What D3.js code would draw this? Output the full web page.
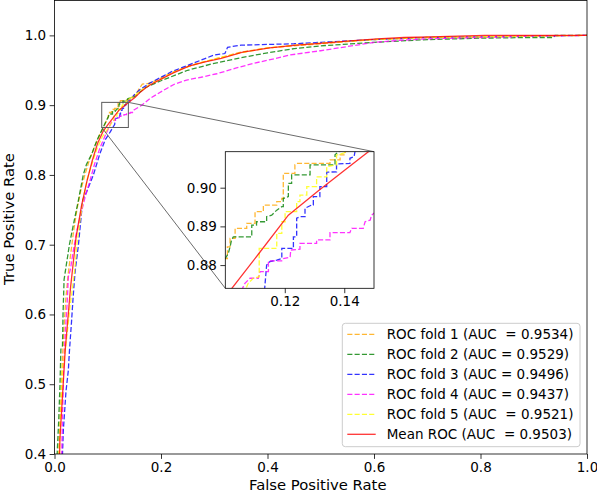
<!DOCTYPE html>
<html><head><meta charset="utf-8">
<script src="https://cdn.jsdelivr.net/npm/d3@7"></script>
<style>body{margin:0;background:#fff} text{font-family:"DejaVu Sans",sans-serif;fill:#000}</style>
</head><body><svg id="c" width="597" height="496"></svg>
<script>
// ---------------- data ----------------
const fold1 = [[0,0],[0.006,0.35],[0.008,0.40],[0.011,0.46],[0.014,0.52],[0.017,0.57],[0.021,0.62],[0.026,0.66],[0.031,0.69],[0.036,0.72],[0.042,0.75],[0.05,0.78],[0.057,0.80],[0.065,0.82],[0.075,0.84],[0.085,0.858],[0.093,0.870],
 [0.1,0.8817],[0.1007,0.8817],[0.1007,0.8847],[0.1016,0.8847],[0.1016,0.8869],[0.1033,0.8869],[0.1033,0.8895],[0.1072,0.8895],[0.1072,0.8908],[0.1100,0.8908],[0.1100,0.8938],[0.1128,0.8938],[0.1128,0.8955],[0.1173,0.8955],[0.1173,0.8964],[0.1190,0.8964],[0.1190,0.8972],[0.1195,0.8972],[0.1195,0.9037],[0.1234,0.9037],[0.1234,0.9059],[0.1240,0.9063],[0.1352,0.9063],[0.1352,0.9072],[0.1386,0.9072],[0.1386,0.9085],[0.1403,0.9085],[0.1403,0.9093],
 [0.145,0.9105],[0.15,0.914],[0.155,0.918],[0.16,0.925],[0.165,0.93],[0.175,0.931],[0.19,0.935],[0.21,0.943],[0.23,0.95],[0.26,0.958],[0.3,0.966],[0.35,0.976],[0.4,0.982],[0.45,0.985],[0.5,0.988],[0.55,0.991],[0.6,0.994],[0.7,0.997],[0.8,0.998],[0.9,0.999],[1,1]];
const fold2 = [[0,0],[0.003,0.35],[0.005,0.40],[0.008,0.45],[0.0103,0.50],[0.012,0.55],[0.015,0.555],[0.016,0.60],[0.018,0.65],[0.022,0.67],[0.028,0.70],[0.035,0.727],[0.045,0.764],[0.054,0.80],[0.06,0.815],[0.07,0.83],[0.08,0.85],[0.09,0.866],
 [0.1,0.8817],[0.1010,0.8830],[0.1016,0.8847],[0.1021,0.8865],[0.1027,0.8873],[0.1089,0.8873],[0.1089,0.8903],[0.1105,0.8903],[0.1105,0.8912],[0.1139,0.8912],[0.1139,0.8925],[0.1156,0.8929],[0.1173,0.8942],[0.1190,0.8951],[0.1195,0.8951],[0.1195,0.8972],[0.1212,0.8977],[0.1212,0.9011],[0.1223,0.9011],[0.1223,0.9033],[0.1285,0.9033],[0.1285,0.9059],[0.1369,0.9059],[0.1369,0.9085],[0.1380,0.9093],
 [0.15,0.912],[0.17,0.925],[0.2,0.935],[0.25,0.95],[0.3,0.96],[0.35,0.968],[0.4,0.975],[0.45,0.981],[0.5,0.985],[0.6,0.99],[0.7,0.994],[0.8,0.996],[0.9,0.997],[0.937,0.997],[0.94,1.0],[1,1]];
const fold3 = [[0,0],[0.012,0.35],[0.015,0.40],[0.0166,0.434],[0.0216,0.49],[0.026,0.52],[0.028,0.547],[0.032,0.59],[0.035,0.625],[0.0385,0.66],[0.045,0.70],[0.053,0.764],[0.06,0.775],[0.073,0.80],[0.085,0.83],[0.095,0.85],[0.105,0.862],
 [0.1131,0.8727],[0.1139,0.8800],[0.1150,0.8809],[0.1173,0.8813],[0.1190,0.8817],[0.1190,0.8843],[0.1229,0.8843],[0.1229,0.8873],[0.1240,0.8873],[0.1240,0.8921],[0.1251,0.8925],[0.1268,0.8925],[0.1268,0.8947],[0.1290,0.8955],[0.1296,0.8955],[0.1296,0.8977],[0.1318,0.8977],[0.1318,0.9003],[0.1341,0.9003],[0.1341,0.9040],[0.1374,0.9041],[0.1374,0.9061],[0.1419,0.9063],[0.1419,0.9076],[0.1433,0.9080],[0.1436,0.9093],
 [0.15,0.915],[0.16,0.922],[0.18,0.932],[0.2,0.94],[0.22,0.948],[0.25,0.957],[0.28,0.966],[0.3,0.972],[0.32,0.974],[0.325,0.983],[0.35,0.986],[0.45,0.988],[0.5,0.99],[0.55,0.992],[0.6,0.994],[0.7,0.997],[0.8,0.998],[0.9,0.999],[1,1]];
const fold4 = [[0,0],[0.01,0.35],[0.0135,0.40],[0.015,0.45],[0.017,0.52],[0.02,0.57],[0.024,0.62],[0.026,0.654],[0.03,0.665],[0.035,0.69],[0.042,0.72],[0.05,0.745],[0.058,0.77],[0.066,0.79],[0.075,0.815],[0.085,0.838],[0.095,0.856],
 [0.1058,0.8740],[0.1066,0.8753],[0.1083,0.8766],[0.1111,0.8766],[0.1117,0.8783],[0.1145,0.8783],[0.1145,0.8811],[0.1190,0.8811],[0.1195,0.8817],[0.1218,0.8820],[0.1220,0.8839],[0.1251,0.8841],[0.1251,0.8856],[0.1307,0.8856],[0.1307,0.8865],[0.1352,0.8865],[0.1352,0.8884],[0.1419,0.8884],[0.1425,0.8895],[0.1464,0.8895],[0.1470,0.8912],[0.1487,0.8916],[0.1492,0.8929],[0.1500,0.8934],
 [0.164,0.90],[0.18,0.91],[0.204,0.921],[0.225,0.93],[0.248,0.936],[0.275,0.94],[0.305,0.945],[0.34,0.953],[0.374,0.96],[0.41,0.966],[0.443,0.972],[0.5,0.978],[0.55,0.984],[0.6,0.99],[0.65,0.993],[0.7,0.995],[0.8,0.997],[0.9,0.999],[1,1]];
const fold5 = [[0,0],[0.007,0.35],[0.009,0.40],[0.012,0.46],[0.015,0.52],[0.022,0.56],[0.029,0.61],[0.034,0.64],[0.038,0.664],[0.042,0.70],[0.048,0.735],[0.055,0.77],[0.062,0.795],[0.07,0.815],[0.08,0.838],[0.09,0.855],[0.1,0.866],
 [0.1070,0.8740],[0.1077,0.8753],[0.1094,0.8766],[0.1114,0.8770],[0.1114,0.8843],[0.1173,0.8843],[0.1173,0.8882],[0.1190,0.8882],[0.1190,0.8912],[0.1201,0.8912],[0.1201,0.8938],[0.1240,0.8938],[0.1240,0.8964],[0.1251,0.8964],[0.1251,0.8981],[0.1274,0.8981],[0.1274,0.9003],[0.1307,0.9003],[0.1307,0.9028],[0.1341,0.9028],[0.1341,0.9054],[0.1374,0.9059],[0.1374,0.9084],[0.1397,0.9089],[0.1408,0.9093],
 [0.15,0.913],[0.16,0.92],[0.18,0.93],[0.2,0.937],[0.22,0.946],[0.25,0.955],[0.28,0.962],[0.3,0.966],[0.35,0.975],[0.4,0.982],[0.45,0.986],[0.5,0.989],[0.6,0.994],[0.7,0.997],[0.8,0.998],[0.9,0.999],[1,1]];
const meanFpr = [0,0.0101,0.0202,0.0303,0.0404,0.0505,0.0606,0.0707,0.0808,0.0909,0.1010,0.1111,0.1212,0.1313,0.1414,0.1515,0.1616,0.1717,0.1818,0.2020,0.2222,0.2525,0.2828,0.3131,0.3535,0.4040,0.4545,0.5051,0.5556,0.6061,0.6566,0.7071,0.8081,0.9091,1.0];
const meanTpr = [0,0.42,0.55,0.64,0.71,0.755,0.79,0.82,0.845,0.862,0.8728,0.8828,0.8929,0.8992,0.9053,0.9113,0.919,0.925,0.930,0.938,0.946,0.956,0.962,0.967,0.976,0.982,0.986,0.989,0.992,0.995,0.997,0.998,1.0,1.0,1.0];
const seriesNames = ["ROC fold 1 (AUC  = 0.9534)","ROC fold 2 (AUC = 0.9529)","ROC fold 3 (AUC = 0.9496)","ROC fold 4 (AUC = 0.9437)","ROC fold 5 (AUC  = 0.9521)","Mean ROC (AUC  = 0.9503)"];
const xTicks = [0,0.2,0.4,0.6,0.8,1.0];
const yTicks = [0.4,0.5,0.6,0.7,0.8,0.9,1.0];
const insetXTicks = [0.12,0.14];
const insetYTicks = [0.88,0.89,0.90];
const insetXDomain = [0.1,0.15];
const insetYDomain = [0.874,0.9093];
const boxXDomain = [0.0887,0.1387];
const boxYDomain = [0.868,0.904];

// ---------------- styles ----------------
const colors = ["#FFA500","#008000","#0000FF","#FF00FF","#FFFF00","#FF0000"];
const dashes = ["5.1,2.2","5.1,2.2","5.1,2.2","5.1,2.2","5.1,2.2",null];
const lw = 1.3;

const svg = d3.select("#c");
const x = d3.scaleLinear([0,1],[54.5,587]);
const y = d3.scaleLinear([0.4,1.05],[454,0.5]);
const ix = d3.scaleLinear(insetXDomain,[225.3,374]);
const iy = d3.scaleLinear(insetYDomain,[288.3,151.7]);

const meanPts = meanFpr.map((f,i)=>[f,meanTpr[i]]);
const allSeries = [fold1,fold2,fold3,fold4,fold5,meanPts];

const defs = svg.append("defs");
defs.append("clipPath").attr("id","mainClip").append("rect")
  .attr("x",x(0)).attr("y",y(1.05)).attr("width",x(1)-x(0)).attr("height",y(0.4)-y(1.05));
defs.append("clipPath").attr("id","insetClip").append("rect")
  .attr("x",ix(insetXDomain[0])).attr("y",iy(insetYDomain[1])).attr("width",ix(insetXDomain[1])-ix(insetXDomain[0])).attr("height",iy(insetYDomain[0])-iy(insetYDomain[1]));

// main curves
const gMain = svg.append("g").attr("clip-path","url(#mainClip)");
const lineMain = d3.line().x(d=>x(d[0])).y(d=>y(d[1]));
allSeries.forEach((s,i)=>{
  gMain.append("path").attr("d",lineMain(s)).attr("fill","none")
    .attr("stroke",colors[i]).attr("stroke-width",lw).attr("stroke-opacity",0.8)
    .attr("stroke-dasharray",dashes[i]);
});

// axes
const fmt1 = d3.format(".1f");
const xAxis = svg.append("g").attr("transform",`translate(0,${y(0.4)})`)
  .call(d3.axisBottom(x).tickValues(xTicks).tickFormat(fmt1).tickSize(4.9).tickPadding(3.5));
const yAxis = svg.append("g").attr("transform",`translate(${x(0)},0)`)
  .call(d3.axisLeft(y).tickValues(yTicks).tickFormat(fmt1).tickSize(4.9).tickPadding(3.5));
[xAxis,yAxis].forEach(a=>{
  a.select(".domain").remove();
  a.selectAll("line").attr("stroke","#000").attr("stroke-width",0.8);
  a.selectAll("text").attr("font-size",13.5).attr("font-family","DejaVu Sans");
});
// spines
svg.append("rect").attr("x",x(0)).attr("y",y(1.05)).attr("width",x(1)-x(0)).attr("height",y(0.4)-y(1.05))
  .attr("fill","none").attr("stroke","#000").attr("stroke-width",0.8);

svg.append("text").attr("x",(x(0)+x(1))/2-3).attr("y",490).attr("text-anchor","middle")
  .attr("font-size",14.8).text("False Positive Rate");
svg.append("text").attr("transform","translate(13.5,219) rotate(-90)").attr("text-anchor","middle")
  .attr("font-size",14.8).text("True Positive Rate");

// zoom box and connectors
const bx0=x(boxXDomain[0]), bx1=x(boxXDomain[1]), by0=y(boxYDomain[0]), by1=y(boxYDomain[1]);
const grey="#5a5a5a";
svg.append("rect").attr("x",bx0).attr("y",by1).attr("width",bx1-bx0).attr("height",by0-by1)
  .attr("fill","none").attr("stroke",grey).attr("stroke-width",1);
svg.append("line").attr("x1",bx1).attr("y1",by1).attr("x2",ix(insetXDomain[1])).attr("y2",iy(insetYDomain[1]))
  .attr("stroke",grey).attr("stroke-width",0.9);
svg.append("line").attr("x1",bx0).attr("y1",by0).attr("x2",ix(insetXDomain[0])).attr("y2",iy(insetYDomain[0]))
  .attr("stroke",grey).attr("stroke-width",0.9);

// inset
svg.append("rect").attr("x",ix(insetXDomain[0])).attr("y",iy(insetYDomain[1]))
  .attr("width",ix(insetXDomain[1])-ix(insetXDomain[0])).attr("height",iy(insetYDomain[0])-iy(insetYDomain[1]))
  .attr("fill","#fff");
const gIn = svg.append("g").attr("clip-path","url(#insetClip)");
const lineIn = d3.line().x(d=>ix(d[0])).y(d=>iy(d[1]));
allSeries.forEach((s,i)=>{
  gIn.append("path").attr("d",lineIn(s)).attr("fill","none")
    .attr("stroke",colors[i]).attr("stroke-width",lw).attr("stroke-opacity",0.8)
    .attr("stroke-dasharray",dashes[i]);
});
const fmt2 = d3.format(".2f");
const ixAxis = svg.append("g").attr("transform",`translate(0,${iy(insetYDomain[0])})`)
  .call(d3.axisBottom(ix).tickValues(insetXTicks).tickFormat(fmt2).tickSize(4.9).tickPadding(3.5));
const iyAxis = svg.append("g").attr("transform",`translate(${ix(insetXDomain[0])},0)`)
  .call(d3.axisLeft(iy).tickValues(insetYTicks).tickFormat(fmt2).tickSize(4.9).tickPadding(3.5));
[ixAxis,iyAxis].forEach(a=>{
  a.select(".domain").remove();
  a.selectAll("line").attr("stroke","#000").attr("stroke-width",0.8);
  a.selectAll("text").attr("font-size",13.5).attr("font-family","DejaVu Sans");
});
svg.append("rect").attr("x",ix(insetXDomain[0])).attr("y",iy(insetYDomain[1]))
  .attr("width",ix(insetXDomain[1])-ix(insetXDomain[0])).attr("height",iy(insetYDomain[0])-iy(insetYDomain[1]))
  .attr("fill","none").attr("stroke","#000").attr("stroke-width",0.8);

// legend
const lg = svg.append("g");
lg.append("rect").attr("x",342.3).attr("y",323.3).attr("width",237.7).attr("height",123.4)
  .attr("rx",3).attr("fill","#fff").attr("fill-opacity",0.8).attr("stroke","#cccccc").attr("stroke-width",1);
seriesNames.forEach((name,i)=>{
  const cy = 334.3 + i*20;
  lg.append("line").attr("x1",347.3).attr("x2",375.7).attr("y1",cy).attr("y2",cy)
    .attr("stroke",colors[i]).attr("stroke-width",lw).attr("stroke-opacity",0.8).attr("stroke-dasharray",dashes[i]);
  lg.append("text").attr("x",386.7).attr("y",cy).attr("dy","0.36em").attr("font-size",13.5)
    .style("white-space","pre").text(name);
});
</script></body></html>
